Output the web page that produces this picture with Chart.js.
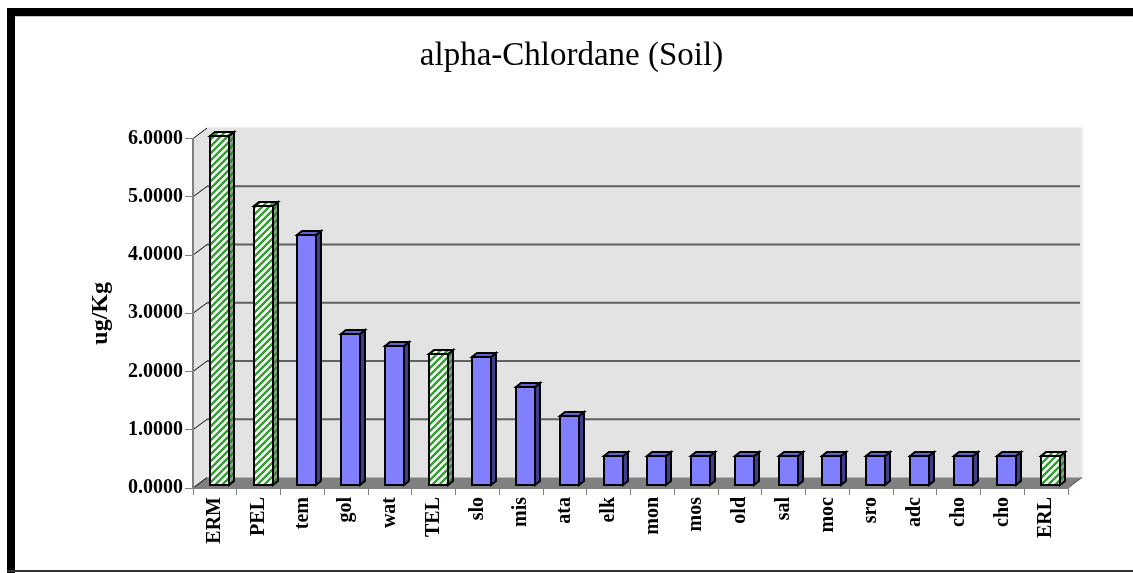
<!DOCTYPE html>
<html><head><meta charset="utf-8">
<script src="https://cdn.jsdelivr.net/npm/chart.js@4.4.1/dist/chart.umd.min.js"></script>
<style>html,body{margin:0;padding:0;background:#fff;overflow:hidden}canvas{display:block}</style>
</head><body>
<div style="width:1133px;height:573px;position:relative"><canvas id="c" width="1133" height="573"></canvas></div>
<script>
const titleText = 'alpha-Chlordane (Soil)';
const yTitle = 'ug/Kg';
const categories = ['ERM','PEL','tem','gol','wat','TEL','slo','mis','ata','elk','mon','mos','old','sal','moc','sro','adc','cho','cho','ERL'];
const values = [6.0, 4.8, 4.3, 2.6, 2.4, 2.25, 2.2, 1.7, 1.2, 0.5, 0.5, 0.5, 0.5, 0.5, 0.5, 0.5, 0.5, 0.5, 0.5, 0.5];
const barKinds = ['guide','guide','site','site','site','guide','site','site','site','site','site','site','site','site','site','site','site','site','site','guide'];
const yTickValues = [0, 1, 2, 3, 4, 5, 6];

const FONT = 'Liberation Serif';

function makePattern(bg, fg) {
  const n = 7;
  const p = document.createElement('canvas');
  p.width = n; p.height = n;
  const g = p.getContext('2d');
  g.fillStyle = bg; g.fillRect(0, 0, n, n);
  g.strokeStyle = fg; g.lineWidth = 2.4;
  g.beginPath();
  g.moveTo(-1, n + 1); g.lineTo(n + 1, -1);
  g.moveTo(-1, 1); g.lineTo(1, -1);
  g.moveTo(n - 1, n + 1); g.lineTo(n + 1, n - 1);
  g.stroke();
  return document.getElementById('c').getContext('2d').createPattern(p, 'repeat');
}

const styles = {
  site: { front: '#8080ff', top: '#6262cc', side: '#3e3e8a' },
  guide: { front: makePattern('#ffffff', '#2f9e2f'), top: makePattern('#ffffff', '#2f9e2f'), side: makePattern('#9a9a9a', '#2f8a2f') }
};

const DEPTH = { x: 14, y: -10.5 };

const frame3d = {
  id: 'frame3d',
  beforeDraw(chart) {
    const ctx = chart.ctx;
    const a = chart.chartArea;
    const ys = chart.scales.y;
    ctx.save();
    // outer frame
    ctx.fillStyle = '#000';
    ctx.fillRect(7, 8, 1133 - 7, 8);
    ctx.fillRect(7, 8, 8, 573 - 8);
    ctx.fillStyle = '#c8c8c8';
    ctx.fillRect(15, 16, 1133 - 15, 1);
    ctx.fillStyle = '#333';
    ctx.fillRect(7, 570, 1133 - 7, 2);

    const L = a.left, R = a.right, T = a.top, B = a.bottom;
    const bx = DEPTH.x, by = DEPTH.y;
    // side wall
    ctx.fillStyle = '#e3e3e3';
    ctx.beginPath();
    ctx.moveTo(L, T); ctx.lineTo(L + bx, T + by); ctx.lineTo(L + bx, B + by); ctx.lineTo(L, B);
    ctx.closePath(); ctx.fill();
    // back wall
    ctx.fillStyle = '#eeeeee';
    ctx.fillRect(L + bx, T + by - 1, R - L + 1, B - T + 1);
    ctx.fillStyle = '#e3e3e3';
    ctx.fillRect(L + bx, T + by, R - L - 1, B - T);
    // floor
    ctx.fillStyle = '#808080';
    ctx.beginPath();
    ctx.moveTo(L, B); ctx.lineTo(L + bx, B + by); ctx.lineTo(R + bx, B + by); ctx.lineTo(R, B);
    ctx.closePath(); ctx.fill();
    ctx.strokeStyle = '#555';
    ctx.lineWidth = 1;
    ctx.beginPath(); ctx.moveTo(R, B); ctx.lineTo(R + bx, B + by); ctx.stroke();
    // back gridlines
    ctx.strokeStyle = '#606060';
    ctx.lineWidth = 2;
    yTickValues.forEach(v => {
      if (v === 0 || v === yTickValues[yTickValues.length - 1]) return;
      const y = ys.getPixelForValue(v) + by;
      ctx.beginPath(); ctx.moveTo(L + bx, y); ctx.lineTo(R + bx - 2, y); ctx.stroke();
    });
    // diagonal connectors
    ctx.strokeStyle = '#000';
    ctx.lineWidth = 1;
    yTickValues.forEach(v => {
      const y = ys.getPixelForValue(v);
      ctx.beginPath(); ctx.moveTo(L, y); ctx.lineTo(L + bx, y + by); ctx.stroke();
    });
    ctx.restore();
  },
  afterDatasetsDraw(chart) {
    const ctx = chart.ctx;
    const meta = chart.getDatasetMeta(0);
    const dx = 5, dy = -4, sx = 4.5, sy = -2.5;
    ctx.save();
    ctx.lineWidth = 2;
    ctx.strokeStyle = '#000';
    ctx.lineJoin = 'miter';
    meta.data.forEach((bar, i) => {
      const p = bar.getProps(['x', 'y', 'base', 'width'], true);
      const st = styles[barKinds[i]];
      const L = Math.round(p.x - p.width / 2 + sx), R = Math.round(p.x + p.width / 2 + sx);
      const T = Math.round(p.y + sy), B = Math.round(p.base + sy);
      ctx.fillStyle = st.side;
      ctx.beginPath();
      ctx.moveTo(R, B); ctx.lineTo(R + dx, B + dy); ctx.lineTo(R + dx, T + dy); ctx.lineTo(R, T);
      ctx.closePath(); ctx.fill(); ctx.stroke();
      ctx.fillStyle = st.top;
      ctx.beginPath();
      ctx.moveTo(L, T); ctx.lineTo(L + dx, T + dy); ctx.lineTo(R + dx, T + dy); ctx.lineTo(R, T);
      ctx.closePath(); ctx.fill(); ctx.stroke();
      ctx.fillStyle = st.front;
      ctx.fillRect(L, T, R - L, B - T);
      ctx.strokeRect(L, T, R - L, B - T);
    });
    ctx.restore();
  }
};

new Chart(document.getElementById('c'), {
  type: 'bar',
  data: {
    labels: categories,
    datasets: [{
      data: values,
      backgroundColor: 'rgba(0,0,0,0)',
      borderWidth: 0,
      categoryPercentage: 1,
      barPercentage: 0.434
    }]
  },
  options: {
    responsive: false,
    animation: false,
    devicePixelRatio: 1,
    events: [],
    layout: { padding: { left: 75, right: 65, top: 0, bottom: 0 } },
    plugins: {
      legend: { display: false },
      tooltip: { enabled: false },
      title: {
        display: true,
        text: titleText,
        color: '#000',
        font: { family: FONT, size: 33, weight: 'normal' },
        padding: { top: 37, bottom: 62 }
      }
    },
    scales: {
      x: {
        offset: true,
        grid: { display: true, drawOnChartArea: false, drawTicks: true, tickLength: 7, color: '#808080', lineWidth: 1, offset: true },
        border: { display: true, color: '#808080', width: 2 },
        ticks: {
          autoSkip: false, minRotation: 90, maxRotation: 90,
          color: '#000', padding: 2,
          font: { family: FONT, size: 20, weight: 'bold' }
        },
        afterFit(s) { s.height = 85; }
      },
      y: {
        min: 0, max: 6,
        afterBuildTicks(s) { s.ticks = yTickValues.map(v => ({ value: v })); },
        grid: { display: true, drawOnChartArea: false, drawTicks: true, tickLength: 8, color: '#808080', lineWidth: 1 },
        border: { display: true, color: '#808080', width: 2 },
        ticks: {
          color: '#000', padding: 2,
          font: { family: FONT, size: 20, weight: 'bold' },
          callback: v => Number(v).toFixed(4)
        },
        title: {
          display: true, text: yTitle, color: '#000',
          font: { family: FONT, size: 24, weight: 'bold' },
          padding: { top: 11, bottom: 0 }
        },
        afterFit(s) { s.width = 118; }
      }
    }
  },
  plugins: [frame3d]
});
</script>
</body></html>
